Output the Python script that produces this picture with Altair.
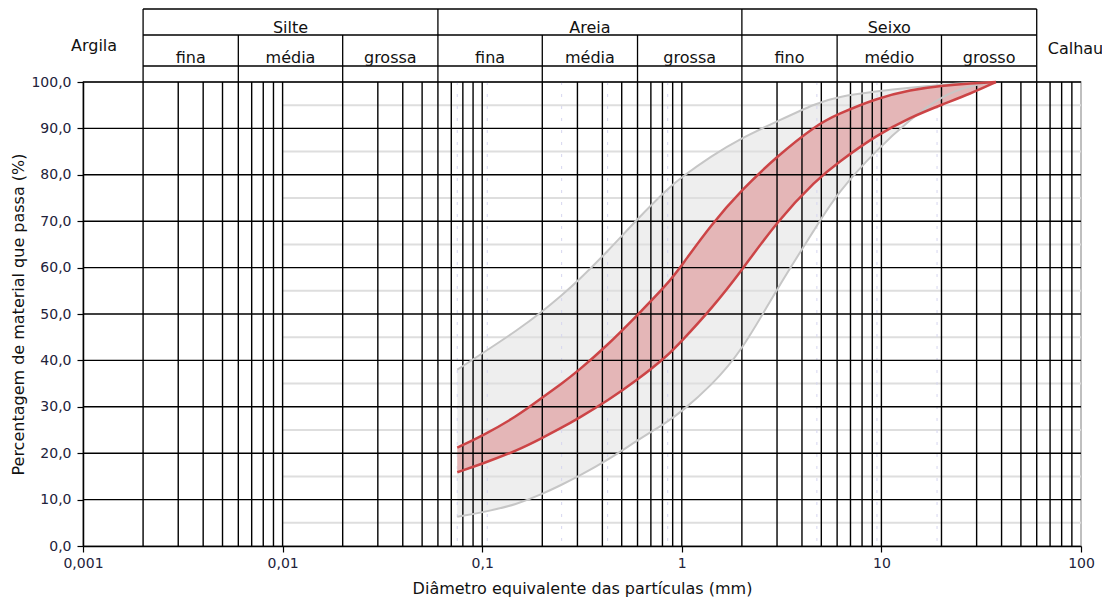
import math
import altair as alt
import pandas as pd

# ---------------- data ----------------
diam = [0.075, 0.1, 0.15, 0.2, 0.25, 0.3, 0.425, 0.6, 0.85, 1.0, 1.4,
        2.0, 3.0, 4.75, 6.0, 9.5, 14.0, 20.0, 28.0, 37.5]
grey_upper = [38.0, 41.5, 46.5, 50.5, 54.0, 57.0, 63.5, 70.5, 77.0, 79.5, 84.0,
              88.0, 91.5, 95.5, 96.8, 98.0, 98.8, 99.4, 99.8, 100.0]
grey_lower = [6.3, 7.2, 9.0, 11.2, 13.2, 14.9, 18.5, 22.8, 26.8, 29.0, 34.5,
              42.0, 55.5, 69.0, 76.0, 85.5, 92.0, 97.0, 99.3, 100.0]
red_upper = [21.2, 23.7, 28.0, 32.0, 35.0, 37.6, 43.3, 49.8, 56.5, 60.5, 69.2,
             76.8, 84.0, 90.8, 93.0, 96.5, 98.3, 99.2, 99.7, 100.0]
red_lower = [15.9, 17.7, 20.6, 23.3, 25.5, 27.4, 31.3, 35.8, 41.0, 44.2, 51.0,
             59.4, 70.0, 79.0, 82.5, 88.6, 92.4, 95.1, 97.5, 100.0]

sieves = [0.075, 0.106, 0.25, 0.425, 0.85, 4.75, 9.5, 19.0]

class_names = ["Silte", "Areia", "Seixo"]
class_bounds = [0.002, 0.06, 2.0, 60.0]
sub_names = ["fina", "média", "grossa", "fina", "média", "grossa", "fino", "médio", "grosso"]
sub_bounds = [0.002, 0.006, 0.02, 0.06, 0.2, 0.6, 2.0, 6.0, 20.0, 60.0]

x_ticks = [0.001, 0.01, 0.1, 1, 10, 100]
y_ticks = list(range(0, 101, 10))
y_minor = list(range(5, 100, 10))

x_title = "Diâmetro equivalente das partículas (mm)"
y_title = "Percentagem de material que passa (%)"

# ---------------- tables ----------------
curves = pd.DataFrame({"d": diam, "gu": grey_upper, "gl": grey_lower,
                       "ru": red_upper, "rl": red_lower})
grid_x = [round(m * 10.0 ** e, 6) for e in range(-3, 2) for m in range(1, 10)][1:]
grid_df = pd.DataFrame({"d": grid_x})
sieve_df = pd.DataFrame({"d": sieves})
ymajor_df = pd.DataFrame({"p": y_ticks[1:]})
yminor_df = pd.DataFrame({"p": y_minor, "d": [0.01] * len(y_minor), "b": [100.0] * len(y_minor)})

cls_df = pd.DataFrame({"name": class_names,
                       "d": [math.sqrt(class_bounds[i] * class_bounds[i + 1]) for i in range(3)]})
sub_df = pd.DataFrame({"name": sub_names,
                       "d": [math.sqrt(sub_bounds[i] * sub_bounds[i + 1]) for i in range(9)]})
cls_line_df = pd.DataFrame({"d": class_bounds})
sub_line_df = pd.DataFrame({"d": [b for b in sub_bounds if b not in class_bounds]})
hline_df = pd.DataFrame({"d": [class_bounds[0]], "b": [class_bounds[-1]]})

xs = alt.Scale(type="log", domain=[0.001, 100], nice=False)
ys = alt.Scale(domain=[0, 100], nice=False, zero=False)

FONT = "DejaVu Sans"
BLACK = "#000000"

x_axis = alt.Axis(values=x_ticks, format="~g", labelExpr="replace(datum.label, '.', ',')",
                  grid=False, ticks=True, tickSize=6, tickColor=BLACK, tickWidth=1.2,
                  domainColor=BLACK, domainWidth=1.5, labelColor="#22223a", labelFontSize=14,
                  labelPadding=4, labelFlush=False, labelOverlap=False,
                  title=x_title, titleFontSize=16, titleFontWeight="normal",
                  titleColor="#111111", titlePadding=10)
y_axis = alt.Axis(values=y_ticks, format=".1f", labelExpr="replace(datum.label, '.', ',')",
                  grid=False, ticks=True, tickSize=6, tickColor=BLACK, tickWidth=1.2,
                  domainColor=BLACK, domainWidth=1.5, labelColor="#22223a", labelFontSize=14,
                  labelPadding=6, labelFlush=False, labelOverlap=False,
                  title=y_title, titleFontSize=16, titleFontWeight="normal",
                  titleColor="#111111", titlePadding=4)

X = lambda f="d": alt.X(f + ":Q", scale=xs, axis=x_axis)
Y = lambda f: alt.Y(f + ":Q", scale=ys, axis=y_axis)

base = alt.Chart(curves)

grey_area = base.mark_area(color="#eeeeee", interpolate="basis").encode(
    x=X(), y=Y("gl"), y2="gu:Q")

minor_h = alt.Chart(yminor_df).mark_rule(color="#dedede", strokeWidth=2).encode(
    x=X(), x2="b:Q", y=Y("p"))

sieve_lines = alt.Chart(sieve_df).mark_rule(color="#d6d6ef", strokeWidth=1, strokeDash=[3, 9]).encode(
    x=X())

red_area = base.mark_area(color="#e4b6b7", interpolate="basis").encode(
    x=X(), y=Y("rl"), y2="ru:Q")

vgrid = alt.Chart(grid_df).mark_rule(color=BLACK, strokeWidth=1.4).encode(x=X())
hgrid = alt.Chart(ymajor_df).mark_rule(color=BLACK, strokeWidth=1.4).encode(y=Y("p"))

def curve(field, color, width):
    return base.mark_line(color=color, strokeWidth=width, interpolate="basis").encode(
        x=X(), y=Y(field))

gu_line = curve("gu", "#c6c6c6", 2)
gl_line = curve("gl", "#c6c6c6", 2)
ru_line = curve("ru", "#cc4446", 2.5)
rl_line = curve("rl", "#cc4446", 2.5)

# ---------------- classification header above the plot ----------------
hdr_h = [alt.Chart(hline_df).mark_rule(color=BLACK, strokeWidth=1.3).encode(
    x=X(), x2="b:Q", y=alt.value(v)) for v in (-73, -47, -16)]
hdr_v_cls = alt.Chart(cls_line_df).mark_rule(color=BLACK, strokeWidth=1.3).encode(
    x=X(), y=alt.value(-73), y2=alt.value(0))
hdr_v_sub = alt.Chart(sub_line_df).mark_rule(color=BLACK, strokeWidth=1.3).encode(
    x=X(), y=alt.value(-47), y2=alt.value(0))

txt_kw = dict(font=FONT, fontSize=16, color="#111111", align="center", baseline="alphabetic")
cls_txt = alt.Chart(cls_df).mark_text(**txt_kw).encode(
    x=X(), y=alt.value(-49), text="name:N")
sub_txt = alt.Chart(sub_df).mark_text(**txt_kw).encode(
    x=X(), y=alt.value(-19), text="name:N")
argila = alt.Chart(pd.DataFrame({"d": [class_bounds[0]], "t": ["Argila"]})).mark_text(
    font=FONT, fontSize=16, color="#111111", align="right", baseline="alphabetic", dx=-26).encode(
    x=X(), y=alt.value(-31), text="t:N")
calhau = alt.Chart(pd.DataFrame({"d": [class_bounds[-1]], "t": ["Calhau"]})).mark_text(
    font=FONT, fontSize=16, color="#111111", align="left", baseline="alphabetic", dx=11).encode(
    x=X(), y=alt.value(-28), text="t:N")

chart = alt.layer(
    grey_area, minor_h, sieve_lines, red_area, vgrid, hgrid,
    gu_line, gl_line, ru_line, rl_line,
    *hdr_h, hdr_v_cls, hdr_v_sub, cls_txt, sub_txt, argila, calhau
).properties(
    width=998, height=464,
    autosize=alt.AutoSizeParams(type="none"),
    padding={"left": 75, "top": 74, "right": 21, "bottom": 57},
).configure(font=FONT, background="white").configure_view(stroke="#aaaaaa", strokeWidth=1.5)

chart.save("out.html", embed_options={"renderer": "svg", "actions": False})
